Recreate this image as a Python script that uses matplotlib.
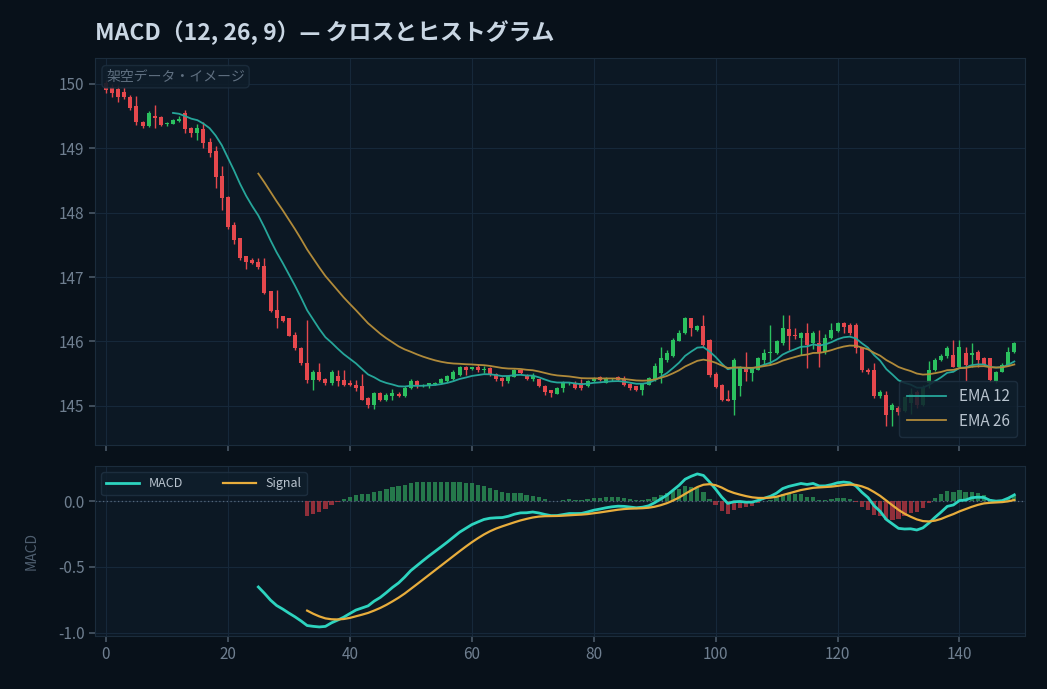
import numpy as np
import pandas as pd
import matplotlib
matplotlib.use('Agg')
from matplotlib import pyplot as plt

plt.rcParams['font.family'] = ['Noto Sans CJK JP', 'DejaVu Sans']

# fictional OHLC data
opens = [150.02, 149.95, 149.92, 149.88, 149.80, 149.65, 149.41, 149.34, 149.50, 149.49,
         149.37, 149.38, 149.42, 149.55, 149.31, 149.23, 149.30, 149.10, 148.95, 148.57,
         148.25, 147.81, 147.60, 147.32, 147.27, 147.23, 147.17, 146.78, 146.49, 146.39,
         146.36, 146.10, 145.90, 145.66, 145.40, 145.53, 145.41, 145.36, 145.46, 145.40,
         145.36, 145.33, 145.31, 145.12, 145.02, 145.20, 145.09, 145.15, 145.19, 145.15,
         145.27, 145.38, 145.31, 145.31, 145.34, 145.35, 145.38, 145.41, 145.48, 145.60,
         145.57, 145.61, 145.56, 145.58, 145.50, 145.43, 145.38, 145.45, 145.55, 145.48,
         145.41, 145.41, 145.31, 145.24, 145.19, 145.27, 145.35, 145.35, 145.35, 145.30,
         145.38, 145.45, 145.36, 145.41, 145.45, 145.41, 145.34, 145.30, 145.25, 145.33,
         145.42, 145.51, 145.71, 145.77, 146.01, 146.13, 146.36, 146.18, 146.24, 146.02,
         145.50, 145.33, 145.10, 145.09, 145.30, 145.61, 145.51, 145.56, 145.71, 145.82,
         145.82, 145.97, 146.19, 146.10, 146.05, 146.13, 145.97, 145.97, 145.84, 146.05,
         146.16, 146.28, 146.26, 146.26, 145.90, 145.56, 145.56, 145.15, 145.17, 144.94,
         144.97, 144.92, 145.05, 145.22, 145.02, 145.35, 145.56, 145.71, 145.77, 145.79,
         145.61, 145.82, 145.79, 145.84, 145.74, 145.74, 145.38, 145.53, 145.64, 145.84]
highs = [150.06, 150.00, 149.98, 149.95, 149.83, 149.81, 149.43, 149.58, 149.67, 149.50,
         149.41, 149.45, 149.50, 149.60, 149.33, 149.38, 149.41, 149.16, 149.03, 148.72,
         148.26, 147.85, 147.61, 147.33, 147.30, 147.30, 147.30, 146.79, 146.80, 146.40,
         146.37, 146.14, 145.91, 146.34, 145.55, 145.66, 145.43, 145.55, 145.55, 145.55,
         145.40, 145.40, 145.50, 145.13, 145.22, 145.22, 145.20, 145.26, 145.21, 145.30,
         145.41, 145.40, 145.34, 145.36, 145.37, 145.43, 145.48, 145.55, 145.62, 145.62,
         145.61, 145.65, 145.62, 145.60, 145.51, 145.44, 145.48, 145.57, 145.57, 145.50,
         145.51, 145.42, 145.32, 145.25, 145.29, 145.38, 145.37, 145.39, 145.41, 145.40,
         145.44, 145.47, 145.44, 145.43, 145.47, 145.47, 145.35, 145.31, 145.36, 145.44,
         145.66, 145.92, 145.86, 146.05, 146.17, 146.38, 146.37, 146.26, 146.41, 146.03,
         145.52, 145.34, 145.25, 145.74, 145.62, 145.84, 145.59, 145.76, 145.89, 146.26,
         146.02, 146.41, 146.41, 146.21, 146.14, 146.28, 146.16, 146.18, 146.12, 146.28,
         146.30, 146.30, 146.28, 146.28, 145.92, 145.58, 145.66, 145.24, 145.23, 145.05,
         145.00, 145.16, 145.28, 145.25, 145.32, 145.70, 145.75, 145.80, 145.93, 146.02,
         146.02, 145.92, 145.97, 145.87, 145.76, 145.75, 145.54, 145.66, 145.92, 145.99]
lows = [149.86, 149.80, 149.72, 149.76, 149.60, 149.36, 149.31, 149.33, 149.31, 149.35,
        149.34, 149.37, 149.40, 149.23, 149.18, 149.13, 149.00, 148.86, 148.38, 148.04,
        147.74, 147.52, 147.27, 147.12, 147.20, 147.13, 146.73, 146.45, 146.21, 146.30,
        146.08, 145.86, 145.64, 145.35, 145.24, 145.38, 145.33, 145.33, 145.31, 145.30,
        145.30, 145.23, 145.09, 144.97, 144.95, 145.07, 145.07, 145.09, 145.13, 145.14,
        145.26, 145.28, 145.29, 145.28, 145.33, 145.34, 145.37, 145.40, 145.47, 145.48,
        145.55, 145.53, 145.51, 145.47, 145.38, 145.30, 145.36, 145.44, 145.50, 145.40,
        145.39, 145.29, 145.17, 145.14, 145.18, 145.21, 145.33, 145.26, 145.25, 145.29,
        145.37, 145.39, 145.35, 145.39, 145.39, 145.30, 145.25, 145.23, 145.17, 145.32,
        145.38, 145.35, 145.68, 145.76, 146.00, 146.12, 146.08, 146.16, 145.92, 145.45,
        145.27, 145.07, 145.07, 144.86, 145.15, 145.38, 145.38, 145.55, 145.64, 145.64,
        145.81, 145.95, 145.87, 146.03, 145.79, 145.59, 145.89, 145.61, 145.80, 146.04,
        146.15, 146.13, 146.10, 145.82, 145.53, 145.50, 145.12, 145.12, 144.68, 144.68,
        144.85, 144.90, 144.88, 144.96, 145.00, 145.28, 145.54, 145.70, 145.74, 145.60,
        145.58, 145.38, 145.61, 145.60, 145.62, 145.37, 145.36, 145.52, 145.62, 145.82]
closes = [149.90, 149.85, 149.80, 149.80, 149.62, 149.41, 149.34, 149.55, 149.47, 149.36,
          149.39, 149.44, 149.46, 149.30, 149.24, 149.31, 149.08, 148.93, 148.56, 148.23,
          147.78, 147.58, 147.29, 147.24, 147.22, 147.15, 146.75, 146.47, 146.36, 146.31,
          146.08, 145.90, 145.66, 145.40, 145.53, 145.40, 145.36, 145.52, 145.38, 145.33,
          145.33, 145.27, 145.09, 145.02, 145.20, 145.09, 145.17, 145.20, 145.15, 145.28,
          145.38, 145.30, 145.32, 145.35, 145.36, 145.41, 145.46, 145.53, 145.60, 145.56,
          145.60, 145.55, 145.57, 145.48, 145.41, 145.38, 145.47, 145.55, 145.51, 145.41,
          145.46, 145.30, 145.22, 145.20, 145.28, 145.36, 145.36, 145.27, 145.27, 145.39,
          145.43, 145.40, 145.43, 145.42, 145.40, 145.33, 145.27, 145.25, 145.35, 145.43,
          145.62, 145.74, 145.82, 146.02, 146.13, 146.36, 146.21, 146.24, 145.95, 145.48,
          145.29, 145.09, 145.08, 145.71, 145.61, 145.52, 145.58, 145.74, 145.82, 145.84,
          146.00, 146.21, 146.09, 146.08, 146.13, 145.95, 146.13, 145.84, 146.05, 146.18,
          146.28, 146.23, 146.13, 145.90, 145.55, 145.53, 145.15, 145.22, 144.86, 145.02,
          144.90, 145.14, 145.18, 145.02, 145.28, 145.56, 145.71, 145.77, 145.90, 145.61,
          145.92, 145.64, 145.82, 145.71, 145.64, 145.40, 145.53, 145.64, 145.84, 145.97]

x_ticks = [0, 20, 40, 60, 80, 100, 120, 140]
price_ticks = [145, 146, 147, 148, 149, 150]
macd_ticks = [-1.0, -0.5, 0.0]

df = pd.DataFrame({'open': opens, 'high': highs, 'low': lows, 'close': closes})
idx = np.arange(len(df))

ema12 = df.close.ewm(span=12, adjust=False, min_periods=12).mean()
ema26 = df.close.ewm(span=26, adjust=False, min_periods=26).mean()
macd = ema12 - ema26
signal = macd.ewm(span=9, adjust=False, min_periods=9).mean()
hist = macd - signal

BG = '#08111a'
PANEL = '#0c1824'
GRID = '#16283a'
SPINE = '#1b2c3c'
TICK = '#6f7f90'
UP = '#2bc05f'
DOWN = '#e5484d'

fig = plt.figure(figsize=(10.47, 6.89), dpi=100, facecolor=BG)
ax = fig.add_axes([0.0907, 0.354, 0.888, 0.5617], facecolor=PANEL)
ax2 = fig.add_axes([0.0907, 0.0769, 0.888, 0.2467], facecolor=PANEL, sharex=ax)

# candles
up = df.close >= df.open
colors = np.where(up, UP, DOWN)
ax.vlines(idx, df.low, df.high, colors=colors, linewidth=1.0, zorder=2)
body_low = np.minimum(df.open, df.close)
body_h = np.maximum(np.abs(df.close - df.open), 0.012)
ax.bar(idx, body_h, bottom=body_low, width=0.66, color=colors, linewidth=0, zorder=3)

ax.plot(idx, ema12, color='#26a69a', linewidth=1.3, label='EMA 12', zorder=4)
ax.plot(idx, ema26, color='#b08a3a', linewidth=1.3, label='EMA 26', zorder=4)

ax.set_xlim(-1.8, 150.7)
ax.set_ylim(144.39, 150.40)
ax.set_yticks(price_ticks)
ax.set_xticks(x_ticks)
ax.tick_params(axis='x', labelbottom=False)

leg = ax.legend(loc='lower right', fontsize=11, frameon=True, handlelength=2.6,
                borderpad=0.5, labelspacing=0.5)
leg.get_frame().set_facecolor('#0f1e2c')
leg.get_frame().set_edgecolor('#1f3142')
leg.get_frame().set_alpha(0.85)
for t in leg.get_texts():
    t.set_color('#b9c4cf')

ax.text(0.012, 0.97, '架空データ・イメージ', transform=ax.transAxes, ha='left', va='top',
        fontsize=10, color='#5f6f80', zorder=6,
        bbox=dict(boxstyle='round,pad=0.3', facecolor='#0f1d2a', edgecolor='#1c2d3d', alpha=0.9))

# MACD panel
hist_colors = np.where(hist >= 0, '#2a8a52', '#a8343f')
ax2.bar(idx, hist.fillna(0), width=0.7, color=hist_colors, alpha=0.85, linewidth=0, zorder=2)
ax2.axhline(0, color='#56677a', linewidth=0.9, linestyle=(0, (1, 2)), zorder=1)
ax2.plot(idx, macd, color='#2dd4bf', linewidth=2.0, label='MACD', zorder=4)
ax2.plot(idx, signal, color='#e8ad3c', linewidth=1.6, label='Signal', zorder=4)
ax2.set_ylim(-1.023, 0.265)
ax2.set_yticks(macd_ticks)
ax2.set_yticklabels(['-1.0', '-0.5', '0.0'])
ax2.set_ylabel('MACD', color='#4f5f70', fontsize=10, labelpad=14)

leg2 = ax2.legend(loc='upper left', ncol=2, fontsize=9, frameon=True, handlelength=2.6,
                  columnspacing=3.2, borderpad=0.4)
leg2.get_frame().set_facecolor('#0f1e2c')
leg2.get_frame().set_edgecolor('#1f3142')
leg2.get_frame().set_alpha(0.85)
for t in leg2.get_texts():
    t.set_color('#b9c4cf')

for a in (ax, ax2):
    a.grid(True, color=GRID, linewidth=0.8)
    a.set_axisbelow(True)
    for s in a.spines.values():
        s.set_color(SPINE)
    a.tick_params(colors=TICK, labelsize=11, length=4, width=1.2)
    a.tick_params(axis='both', which='both', color='#4a5868')

fig.text(0.0907, 0.953, 'MACD（12, 26, 9）— クロスとヒストグラム', ha='left', va='center',
         fontsize=16.5, fontweight='bold', color='#c9d6e3')

fig.savefig('out.png', dpi=100, facecolor=BG)
